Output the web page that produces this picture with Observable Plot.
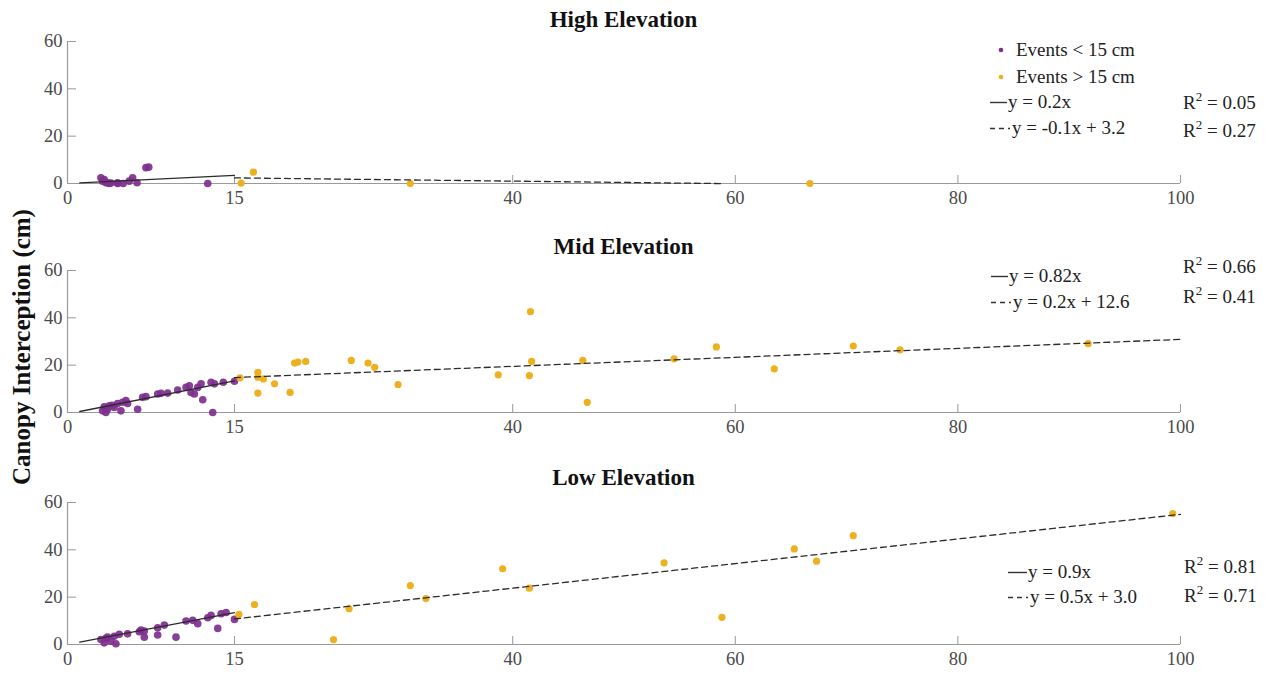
<!DOCTYPE html>
<html><head><meta charset="utf-8">
<script src="https://cdn.jsdelivr.net/npm/d3@7"></script>
<script src="https://cdn.jsdelivr.net/npm/@observablehq/plot@0.6"></script>
<style>
body{margin:0;background:#fff;}
#wrap{position:relative;width:1272px;height:678px;overflow:hidden;font-family:"Liberation Serif","Times New Roman",serif;background:#fff;}
.panel{position:absolute;left:0;}
.title{position:absolute;left:67px;width:1113px;text-align:center;font-weight:bold;font-size:23px;line-height:24px;color:#111;}
.leg{position:absolute;font-size:19px;line-height:20px;height:20px;color:#222;white-space:nowrap;display:flex;align-items:center;}
.leg svg{display:block;}
.r2 sup{font-size:13px;vertical-align:8px;line-height:0;}
#ylab{position:absolute;left:22px;top:347px;transform:translate(-50%,-50%) rotate(-90deg);font-weight:bold;font-size:25px;white-space:nowrap;color:#111;}
</style>
</head><body>
<div id="wrap"><div id="ylab">Canopy Interception (cm)</div></div>
<script>
// ---- data ----
const xTicks = [0, 15, 40, 60, 80, 100];
const yTicks = [0, 20, 40, 60];
const panelNames = ["High Elevation", "Mid Elevation", "Low Elevation"];
const seriesNames = ["Events < 15 cm", "Events > 15 cm"];

const highSmallX = [3.0, 3.15, 3.3, 3.45, 3.6, 3.75, 3.9, 4.5, 4.5, 5.0, 5.55, 5.85, 6.25, 7.05, 7.3, 12.6];
const highSmallY = [2.4, 1.0, 1.7, 0.3, 0.3, 0.0, 0.2, 0.3, 0.0, 0.0, 1.0, 2.4, 0.3, 6.7, 6.9, 0.0];
const highLargeX = [15.6, 16.7, 30.8, 66.7];
const highLargeY = [0.2, 4.8, 0.0, 0.0];

const midSmallX = [3.15, 3.3, 3.45, 3.6, 3.75, 4.0, 4.2, 4.5, 4.8, 4.95, 5.25, 5.4, 6.3, 6.75, 7.05, 8.1, 8.4, 9.0, 9.9, 10.65, 10.95, 11.1, 11.4, 11.7, 12.0, 12.15, 12.9, 13.05, 13.2, 14.0, 15.0];
const midSmallY = [0.7, 2.4, 0.0, 1.5, 2.8, 3.0, 2.1, 3.8, 0.7, 4.3, 5.0, 3.8, 1.4, 6.4, 6.7, 7.8, 8.1, 8.2, 9.5, 10.6, 11.3, 8.5, 7.8, 10.6, 12.1, 5.4, 12.8, 0.0, 12.1, 12.8, 13.2];
const midLargeX = [15.5, 17.1, 17.1, 17.6, 17.1, 18.6, 20.0, 20.4, 20.7, 21.4, 25.5, 27.0, 27.6, 29.7, 38.7, 41.6, 41.7, 41.5, 46.3, 46.7, 54.5, 58.3, 63.5, 70.6, 74.8, 91.7];
const midLargeY = [14.6, 17.0, 14.9, 14.2, 8.2, 12.1, 8.5, 20.9, 21.3, 21.6, 22.0, 20.9, 19.1, 11.8, 15.9, 42.6, 21.6, 15.6, 22.0, 4.3, 22.7, 27.7, 18.4, 28.1, 26.5, 29.1];

const lowSmallX = [3.0, 3.3, 3.45, 3.6, 3.9, 4.35, 4.2, 4.65, 5.4, 6.45, 6.6, 6.9, 6.9, 8.1, 8.1, 8.7, 9.75, 10.65, 11.25, 11.7, 12.6, 12.9, 13.5, 13.8, 14.25, 15.0];
const lowSmallY = [2.1, 0.7, 2.6, 3.1, 1.4, 0.3, 3.5, 4.3, 4.5, 5.4, 6.1, 3.1, 5.7, 7.1, 4.0, 8.2, 3.1, 9.9, 10.2, 8.8, 11.3, 12.3, 6.8, 13.0, 13.5, 10.6];
const lowLargeX = [15.4, 16.8, 23.9, 25.3, 30.8, 32.2, 39.1, 41.5, 53.6, 58.8, 65.3, 67.3, 70.6, 99.3];
const lowLargeY = [12.7, 16.9, 2.1, 15.1, 24.9, 19.4, 32.0, 23.8, 34.5, 11.5, 40.4, 35.2, 46.0, 55.3];

// fitted lines as drawn: [solid (<15 cm), dashed (>15 cm)] per panel
const fitX0 = [[1.1, 15], [1.1, 15], [1.1, 15]];
const fitX1 = [[15, 59], [15, 100], [15, 100]];
const fitSlope = [[0.23, -0.055], [0.93, 0.19], [0.9, 0.52]];
const fitIntercept = [[0.0, 3.2], [-0.6, 11.9], [0.0, 3.0]];
const eqLabels = [["y = 0.2x", "y = -0.1x + 3.2"], ["y = 0.82x", "y = 0.2x + 12.6"], ["y = 0.9x", "y = 0.5x + 3.0"]];
const r2Labels = [["0.05", "0.27"], ["0.66", "0.41"], ["0.81", "0.71"]];

const smallX = [highSmallX, midSmallX, lowSmallX];
const smallY = [highSmallY, midSmallY, lowSmallY];
const largeX = [highLargeX, midLargeX, lowLargeX];
const largeY = [highLargeY, midLargeY, lowLargeY];

// ---- style / layout ----
const purple = "#7E2F8E", yellow = "#EDB120";
const panelTop = [1, 229.5, 462];
const titleCenter = [20, 247, 478];
const axisGray = "#9a9a9a", labelGray = "#4a4a4a";

const wrap = document.getElementById("wrap");

function toPts(xs, ys) { return xs.map((x, i) => ({x, y: ys[i]})); }

for (let p = 0; p < 3; p++) {
  const fits = [0, 1].map(k => {
    const a = fitX0[p][k], b = fitX1[p][k];
    return [a, b].map(x => ({x, y: fitSlope[p][k] * x + fitIntercept[p][k], k}));
  });
  const chart = Plot.plot({
    width: 1272, height: 212,
    marginLeft: 67, marginRight: 92, marginTop: 40, marginBottom: 30,
    x: {domain: [0, 100]},
    y: {domain: [0, 60]},
    style: {fontFamily: "'Liberation Serif', 'Times New Roman', serif", fontSize: "18.5px", background: "transparent", overflow: "visible"},
    marks: [
      Plot.ruleY([0], {stroke: axisGray, strokeWidth: 1.2}),
      Plot.ruleX([0], {y1: 0, y2: 60, stroke: axisGray, strokeWidth: 1.2}),
      Plot.axisX({ticks: xTicks, tickSize: -8, tickPadding: 15, stroke: axisGray, fill: labelGray, tickFormat: d => String(d), label: null}),
      Plot.axisY({ticks: yTicks, tickSize: -9, tickPadding: 14, stroke: axisGray, fill: labelGray, tickFormat: d => String(d), label: null}),
      Plot.dot(toPts(smallX[p], smallY[p]), {x: "x", y: "y", r: 3.8, fill: purple, fillOpacity: 0.92, stroke: "none"}),
      Plot.dot(toPts(largeX[p], largeY[p]), {x: "x", y: "y", r: 3.6, fill: yellow, stroke: "none"}),
      Plot.line(fits[0], {x: "x", y: "y", stroke: "#2b2b2b", strokeWidth: 1.3}),
      Plot.line(fits[1], {x: "x", y: "y", stroke: "#2b2b2b", strokeWidth: 1.3, strokeDasharray: "6,4"})
    ]
  });
  chart.classList.add("panel");
  chart.style.top = panelTop[p] + "px";
  wrap.appendChild(chart);

  const t = document.createElement("div");
  t.className = "title";
  t.style.top = (titleCenter[p] - 12) + "px";
  t.textContent = panelNames[p];
  wrap.appendChild(t);
}

// ---- legends ----
function legRow(left, cy, markerSvg, text, cls) {
  const d = document.createElement("div");
  d.className = "leg" + (cls ? " " + cls : "");
  d.style.left = left + "px";
  d.style.top = (cy - 10) + "px";
  d.innerHTML = markerSvg + "<span>" + text + "</span>";
  wrap.appendChild(d);
}
const dotSvg = c => `<svg width="26" height="20"><circle cx="11" cy="10" r="2.3" fill="${c}"/></svg>`;
const solidSvg = w => `<svg width="${w}" height="20"><line x1="0" y1="10.5" x2="${w - 1}" y2="10.5" stroke="#333" stroke-width="1.4"/></svg>`;
const dashSvg = w => `<svg width="${w}" height="20"><line x1="0" y1="10.5" x2="${w - 2}" y2="10.5" stroke="#333" stroke-width="1.4" stroke-dasharray="5,4"/></svg>`;
const r2Html = v => `R<sup>2</sup> = ${v}`;

// panel 1
legRow(990, 50, dotSvg(purple), seriesNames[0]);
legRow(990, 77, dotSvg(yellow), seriesNames[1]);
legRow(990, 102, solidSvg(18), eqLabels[0][0]);
legRow(990, 128, dashSvg(22), eqLabels[0][1]);
legRow(1183, 103, "", r2Html(r2Labels[0][0]), "r2");
legRow(1183, 131, "", r2Html(r2Labels[0][1]), "r2");
// panel 2
legRow(991, 276, solidSvg(18), eqLabels[1][0]);
legRow(991, 302, dashSvg(22), eqLabels[1][1]);
legRow(1183, 267, "", r2Html(r2Labels[1][0]), "r2");
legRow(1183, 297, "", r2Html(r2Labels[1][1]), "r2");
// panel 3
legRow(1008, 572, solidSvg(20), eqLabels[2][0]);
legRow(1008, 597, dashSvg(22), eqLabels[2][1]);
legRow(1184, 567, "", r2Html(r2Labels[2][0]), "r2");
legRow(1184, 596, "", r2Html(r2Labels[2][1]), "r2");
</script>
</body></html>
